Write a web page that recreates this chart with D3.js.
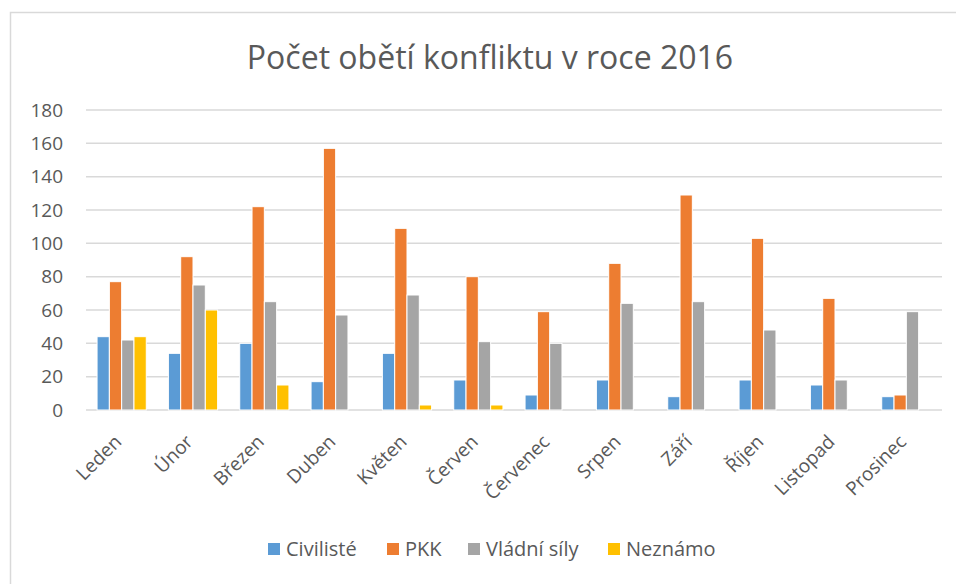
<!DOCTYPE html>
<html lang="cs">
<head>
<meta charset="UTF-8">
<script src="https://cdn.jsdelivr.net/npm/d3@7"></script>
<style>
  body { margin: 0; background: #fff; }
  text { font-family: "Open Sans", sans-serif; fill: #595959; }
</style>
</head>
<body>
<script>
// data
const months = ["Leden", "Únor", "Březen", "Duben", "Květen", "Červen", "Červenec", "Srpen", "Září", "Říjen", "Listopad", "Prosinec"];
const seriesNames = ["Civilisté", "PKK", "Vládní síly", "Neznámo"];
const civiliste = [44, 34, 40, 17, 34, 18, 9, 18, 8, 18, 15, 8];
const pkk = [77, 92, 122, 157, 109, 80, 59, 88, 129, 103, 67, 9];
const vladniSily = [42, 75, 65, 57, 69, 41, 40, 64, 65, 48, 18, 59];
const neznamo = [44, 60, 15, 0, 3, 3, 0, 0, 0, 0, 0, 0];
const yTicks = [0, 20, 40, 60, 80, 100, 120, 140, 160, 180];
const colors = ["#5B9BD5", "#ED7D31", "#A5A5A5", "#FFC000"];

const allSeries = [civiliste, pkk, vladniSily, neznamo];
const table = months.map((m, i) => ({ month: m, values: allSeries.map(s => s[i]) }));

const W = 956, H = 584;
const plot = { left: 86, right: 942, top: 110, bottom: 410 };

const svg = d3.select("body").append("svg")
  .attr("width", W).attr("height", H);

// outer chart frame (runs off the picture at right and bottom)
svg.append("rect")
  .attr("x", 10.5).attr("y", 12.5)
  .attr("width", W + 20).attr("height", H + 20)
  .attr("fill", "none").attr("stroke", "#d9d9d9").attr("stroke-width", 1.5);

// title
svg.append("text")
  .attr("x", 490).attr("y", 69)
  .attr("text-anchor", "middle")
  .style("font-size", "32px")
  .text("Počet obětí konfliktu v roce 2016");

// scales
const x = d3.scaleBand().domain(months)
  .range([plot.left, plot.right]).paddingInner(0.31).paddingOuter(0.155);
const xi = d3.scaleBand().domain(d3.range(seriesNames.length))
  .range([0, x.bandwidth()]).padding(0);
const y = d3.scaleLinear().domain([0, 180]).range([plot.bottom, plot.top]);

// gridlines
svg.append("g").selectAll("line")
  .data(yTicks)
  .join("line")
  .attr("x1", plot.left).attr("x2", plot.right)
  .attr("y1", d => y(d)).attr("y2", d => y(d))
  .attr("stroke", "#d9d9d9").attr("stroke-width", 1.5);

// y axis labels
const yAxis = svg.append("g")
  .attr("transform", `translate(${plot.left - 23},0)`)
  .call(d3.axisLeft(y).tickValues(yTicks).tickSize(0).tickPadding(0));
yAxis.select(".domain").remove();
yAxis.selectAll("text")
  .style("font-size", "19px").style("fill", "#595959")
  .style("font-family", "'Open Sans', sans-serif");

// bars
const groups = svg.append("g").selectAll("g")
  .data(table)
  .join("g")
  .attr("transform", d => `translate(${x(d.month)},0)`);

groups.selectAll("rect")
  .data(d => d.values.map((v, k) => ({ k, v })).filter(e => e.v > 0))
  .join("rect")
  .attr("x", e => xi(e.k))
  .attr("width", xi.bandwidth())
  .attr("y", e => y(e.v))
  .attr("height", e => y(0) - y(e.v))
  .attr("fill", e => colors[e.k])
  .attr("stroke", "#fff").attr("stroke-width", 1);

// x axis labels, rotated
const xAxis = svg.append("g")
  .attr("transform", `translate(0,${plot.bottom})`)
  .call(d3.axisBottom(x).tickSize(0).tickPadding(0));
xAxis.select(".domain").remove();
xAxis.selectAll("text")
  .style("font-size", "19px").style("fill", "#595959")
  .style("font-family", "'Open Sans', sans-serif")
  .attr("text-anchor", "end")
  .attr("dy", null)
  .attr("transform", "translate(1,33) rotate(-45)");

// legend
const legendX = [268, 387, 468, 608];
const legend = svg.append("g").selectAll("g")
  .data(seriesNames)
  .join("g")
  .attr("transform", (d, i) => `translate(${legendX[i]},549)`);
legend.append("rect")
  .attr("x", 0).attr("y", -6).attr("width", 12).attr("height", 12)
  .attr("fill", (d, i) => colors[i]);
legend.append("text")
  .attr("x", 18).attr("y", 7)
  .style("font-size", "20px")
  .text(d => d);
</script>
</body>
</html>
